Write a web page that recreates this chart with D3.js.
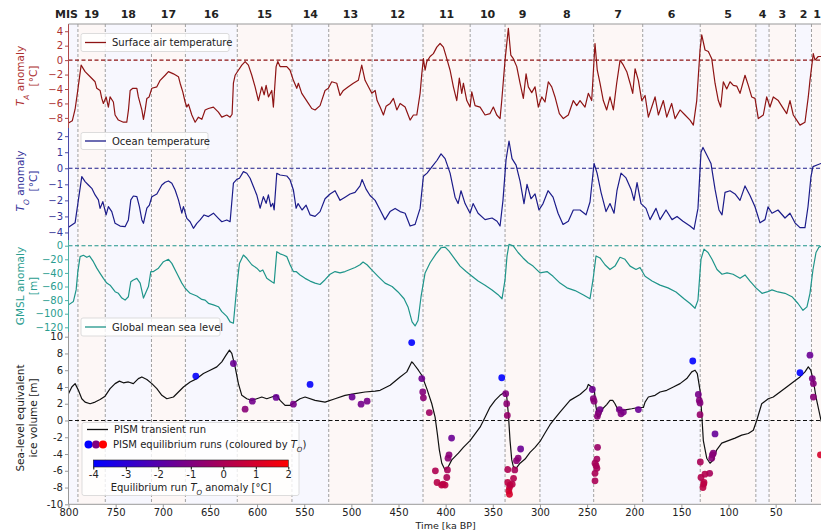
<!DOCTYPE html>
<html>
<head>
<meta charset="utf-8">
<script src="https://cdnjs.cloudflare.com/ajax/libs/d3/7.8.5/d3.min.js"></script>
<style>
  body { margin: 0; background: #fff; }
  text { font-family: "DejaVu Sans", sans-serif; }
</style>
</head>
<body>
<script>
// marine isotope stage boundaries [ka BP], oldest first, and stage numbers
const misEdges = [800, 790, 761, 712, 676, 621, 563, 524, 478, 424, 374, 337, 300, 243, 191, 130, 71, 57, 29, 12, 0];
const misNumbers = [20, 19, 18, 17, 16, 15, 14, 13, 12, 11, 10, 9, 8, 7, 6, 5, 4, 3, 2, 1];

const xTicks = [800, 750, 700, 650, 600, 550, 500, 450, 400, 350, 300, 250, 200, 150, 100, 50];
const taTicks = [4, 2, 0, -2, -4, -6, -8];
const toTicks = [2, 1, 0, -1, -2, -3, -4];
const slTicks = [0, -20, -40, -60, -80, -100, -120];
const iceTicks = [10, 8, 6, 4, 2, 0, -2, -4, -6, -8, -10];
const cbTicks = [-4, -3, -2, -1, 0, 1, 2];

// surface air temperature anomaly [time ka, degC]
const airTemp = [[800,-8.7],[796,-8.4],[793,-6.8],[790.5,-4.5],[786.6,-0.7],[782.4,-1.6],[777,-2.3],[771.8,-3],[770,-3.9],[766.5,-4.2],[764.7,-5.3],[763,-6],[760.1,-5.1],[757.7,-6.5],[755.9,-5.1],[752.4,-5.8],[750.6,-7.6],[747.1,-8.3],[741.8,-8.6],[738.2,-8.6],[736.4,-6.9],[734.6,-4.2],[731.8,-3.9],[727.5,-3.9],[725.9,-5.1],[722.2,-6.9],[720.5,-8.2],[718.7,-6.9],[716.9,-5.3],[714.5,-5.1],[711.6,-3.9],[706.3,-3.7],[702.8,-2.8],[697.5,-2.1],[694,-1.6],[688.7,-1.9],[683.4,-2.3],[681.6,-3.2],[678.8,-4.4],[676.3,-5.8],[674.5,-6.5],[672.8,-6.1],[669.2,-7.6],[665.7,-8.6],[662.2,-7.9],[658.6,-8.2],[655.1,-6.9],[651.6,-6.7],[646.3,-6.5],[641,-7.2],[637.4,-7.9],[632.1,-7.6],[628.6,-7.9],[626.5,-7.5],[625.1,-3.2],[623.3,-2.1],[619.8,-1.4],[616.2,-0.7],[612.7,-0.2],[609.2,-0.7],[605.6,-2.1],[602.1,-3.7],[598.6,-5.6],[595,-3.7],[592.5,-4.8],[590.4,-3.5],[587.9,-5.1],[584.4,-4.2],[582.7,-6.5],[579.8,-0.9],[578,-0.2],[575.6,-0.9],[568.5,-0.9],[565,-1.4],[561.5,-2.8],[557.9,-3.9],[556.2,-3.2],[552.6,-4.6],[549.1,-5.3],[545.6,-6],[542,-6.7],[538.5,-6.9],[533.2,-6.3],[527.9,-4.2],[524.4,-3.9],[520.8,-3],[515.5,-3.2],[512,-4.9],[508.5,-4.2],[503.2,-3.7],[497.9,-3.2],[492.6,-2.8],[489,-0.7],[485.5,-2.8],[481.9,-3.7],[478.3,-4.6],[474.8,-4.2],[472.7,-5.6],[469.5,-6.5],[466,-7.6],[463.2,-6.4],[458.9,-6],[455.4,-5.3],[451.8,-6.9],[448.3,-6],[443,-6.5],[437.7,-8.3],[434.2,-7.6],[430.6,-7.6],[427.1,-4.6],[425.3,-1.9],[423.6,0.2],[421.8,-1.4],[420,-0.2],[416.5,0.5],[413,0.9],[409.4,1.8],[405.9,2.3],[402.4,1.8],[398.8,0.2],[395.3,-1.4],[391.8,-3.7],[388.2,-5.6],[385.5,-2.5],[382.9,-4.6],[381.2,-3.2],[377.6,-5.6],[374.1,-6.5],[372.3,-4.4],[368.8,-6.3],[363.5,-6.5],[358.2,-7.6],[352.9,-7.4],[349.4,-6.5],[345.8,-7.6],[342.3,-8.1],[340.5,-5.6],[337,0],[333.5,4.4],[330.9,0.7],[328.2,0.2],[324.6,-0.9],[321.1,-3.2],[317.6,-5.3],[314.7,-1.9],[312.3,-3.7],[308.7,-4.5],[305.2,-3.7],[301.7,-6.5],[298.1,-5.1],[294.6,-5.8],[291.1,-3],[287.5,-3.7],[284,-5.1],[279.4,-7.4],[275.2,-8.1],[269.9,-7.6],[264.6,-5.6],[261,-6.3],[257.5,-5.6],[252.2,-6.5],[248.7,-4.6],[245.1,-5.6],[241.6,2.3],[239.2,-1.4],[236.3,-3.2],[232.8,-5.6],[229.2,-6.9],[225.7,-5.1],[222.1,-6.9],[218.6,-3.2],[215,0],[211.5,-0.7],[207.9,-1.6],[204.4,-3.2],[201.6,-4.6],[199.1,-1.2],[195.6,-2.8],[192,-5.6],[188.5,-4.9],[185,-7.9],[181.4,-6.5],[177.9,-5.1],[174.4,-7.6],[169.1,-5.6],[165.5,-7.9],[160.3,-6],[156.7,-8.1],[151.4,-6.9],[146.1,-7.6],[140.8,-8.3],[137.3,-9],[133.7,-5.6],[130.2,1.4],[128.4,3.5],[124.9,1.4],[121.4,1.2],[117.8,0.2],[114.3,-3.2],[110.8,-5.6],[108.3,-6.5],[105.5,-3],[101.9,-4],[98.4,-3],[94.9,-3.5],[91.3,-3.6],[87.8,-4.6],[82.5,-2.1],[79,-3.5],[75.4,-5.1],[71.9,-5.3],[68.4,-8.1],[63.1,-7.6],[59.5,-5.1],[56,-6.5],[52.5,-5.1],[47.2,-5.6],[43.3,-6.4],[38.3,-7.4],[34.8,-5.6],[31.3,-7.6],[27.7,-8.3],[24.2,-9],[18.9,-8.6],[15.4,-5.1],[13.6,-2.8],[10.1,0.9],[8.3,0],[4.8,0.5],[1.9,0.5],[0,0.6]];

// ocean temperature anomaly [time ka, degC]
const oceanTemp = [[800,-3.68],[793,-3.4],[789.5,-1.97],[785.9,-0.52],[782.4,-0.83],[778.9,-1.04],[775.3,-1.25],[771.8,-1.66],[768.3,-1.97],[766.5,-2.5],[763.6,-2.08],[760.1,-2.9],[757.7,-2.39],[754.1,-2.7],[750.6,-3.43],[745.3,-3.6],[740,-3.64],[736.5,-3.22],[733.9,-1.97],[731.2,-1.73],[727.5,-1.77],[724.8,-2.39],[722.2,-3.22],[720.5,-3.43],[716.9,-2.49],[714.2,-2.29],[711.6,-1.77],[706.3,-1.6],[701,-1.04],[697.5,-0.87],[694,-0.79],[690.4,-0.93],[686.9,-1.35],[683.4,-1.97],[679.8,-2.8],[678.1,-2.39],[674.5,-3.12],[671,-3.33],[667.5,-3.74],[663.9,-3.43],[660.4,-3.22],[656.2,-2.91],[651.6,-3.01],[646.3,-2.8],[641,-3.12],[637.4,-3.33],[632.1,-3.22],[628.6,-3.33],[625.1,-0.93],[621.5,-0.69],[618.7,-0.62],[614.5,-0.21],[610.9,-0.31],[607.4,-0.62],[603.9,-1.14],[600.3,-1.66],[596.8,-2.49],[593.3,-1.77],[590.4,-2.18],[588,-1.66],[585.4,-2.39],[583.3,-2.18],[581.9,-2.6],[579.1,-0.31],[575.6,-0.42],[568.5,-0.48],[565,-0.73],[561.5,-1.35],[558.6,-2.49],[556.5,-2.2],[552.3,-2.6],[548,-2.3],[543.8,-2.9],[538.5,-3.0],[533.2,-2.7],[527.9,-1.9],[522.6,-1.6],[517.3,-1.4],[512,-2.0],[506.7,-1.8],[501.4,-1.6],[496.1,-1.5],[490.8,-1.1],[488.6,-0.7],[484.4,-1.3],[480.2,-1.7],[474.8,-2.0],[469.5,-2.6],[464.3,-3.2],[459,-2.7],[453.6,-2.5],[448.3,-2.7],[443,-2.8],[437.7,-3.6],[432.4,-3.5],[427.1,-2.5],[423.6,-0.5],[419.7,-0.3],[414.4,0.1],[409.1,0.5],[404.9,0.9],[400.6,0.6],[395.3,-0.3],[390,-1.8],[386.8,-2.2],[383.7,-1.4],[379.4,-2.2],[374.1,-2.8],[370.9,-2.2],[365.6,-2.8],[358.2,-3.2],[350.8,-3.1],[345.5,-3.3],[342.3,-3.6],[339.2,-2.0],[336,0.5],[332.8,1.7],[329.6,0.6],[325.3,0.2],[321.1,-0.8],[316.9,-2.2],[313.7,-1.0],[309.5,-1.9],[305.2,-1.6],[301,-2.6],[296.7,-2.2],[291.4,-1.4],[286.1,-1.8],[280.8,-2.8],[275.5,-3.5],[269.9,-3.3],[264.6,-2.6],[257.5,-2.6],[251.1,-2.9],[246.9,-2.1],[242.6,0.3],[239.4,-0.3],[235.2,-1.5],[229.9,-2.7],[225.7,-2.2],[221.4,-2.8],[218.3,-1.4],[214,-0.3],[208.7,-0.6],[203.4,-1.3],[200.2,-2.0],[197,-0.9],[192.8,-2.2],[187.5,-2.5],[183.2,-3.2],[176.9,-2.5],[172.6,-3.2],[166.3,-2.6],[159.9,-3.2],[154.6,-3.0],[148.3,-3.3],[140.8,-3.6],[136.6,-3.8],[132.4,-2.5],[129.2,1.0],[127.1,1.3],[122.8,0.8],[118.6,0.3],[114.3,-1.3],[110.1,-2.6],[106.9,-2.9],[103.7,-1.5],[98.4,-1.4],[93.1,-1.6],[87.8,-2.0],[82.5,-1.1],[77.2,-1.7],[71.9,-2.4],[66.6,-3.4],[61.3,-3.2],[58.1,-2.4],[53.9,-2.8],[47.5,-2.6],[40.1,-3.1],[34.8,-2.8],[29.5,-3.4],[24.2,-3.7],[18.9,-3.7],[15.7,-2.4],[12.5,-0.5],[10.4,0.1],[6.1,0.2],[1.9,0.3],[0,0.3]];

// global mean sea level anomaly [time ka, m]
const seaLevel = [[800,-87],[794.8,-82],[791.9,-65],[790.1,-38],[787.7,-16],[784.2,-14],[780.6,-17],[777.8,-15],[773.6,-23.5],[770,-33],[766.5,-40.6],[763,-48],[759.4,-55],[755.9,-58],[750.6,-67.6],[747.1,-70],[743.4,-77],[740,-80],[736.5,-75],[733.9,-53],[731.2,-50.4],[727.5,-48],[724,-55],[720.5,-77],[715.2,-60],[712.7,-38],[709.9,-38],[704.6,-33],[699.3,-23.5],[694,-20],[690.4,-26],[685.1,-40.6],[679.8,-55],[676.3,-62.6],[671,-70],[663.9,-74],[658.6,-79],[655.1,-80],[651.6,-84.7],[646.3,-87],[641,-89.7],[637.4,-97],[632.1,-104],[628.6,-112],[625.1,-114],[621.5,-60],[618.7,-26],[614.5,-13.7],[610.9,-18.5],[605.6,-28],[600.3,-33],[596.8,-38],[593.9,-35.7],[589.7,-48],[584.4,-53],[581.9,-55],[579.1,-8.8],[575.6,-12],[572.1,-13.7],[568.5,-16],[565,-28],[561.5,-38],[558.6,-38],[554.4,-43],[549.1,-48],[543.8,-52],[538.5,-55],[533.2,-57],[527.9,-50],[522.6,-42],[517.3,-38],[512,-40],[506.7,-38],[501.4,-35],[496.1,-32],[490.8,-28],[487.6,-24],[483.4,-28],[478.1,-36],[471.7,-45],[464.3,-55],[456.8,-60],[450.5,-68],[444.1,-78],[439.9,-90],[435.6,-112],[432.4,-118],[429.3,-110],[426.1,-75],[421.8,-40],[416.5,-25],[410.2,-12],[404.9,-3],[400.6,-2],[396.4,-8],[390,-20],[384.7,-30],[378.3,-38],[372,-45],[365.6,-52],[358.2,-58],[350.8,-65],[344.4,-72],[340.2,-78],[337,-50],[334.9,-15],[332.8,2],[328.5,0],[323.2,-10],[317.9,-18],[312.6,-25],[307.3,-30],[299.9,-40],[292.5,-38],[286.1,-45],[278.7,-55],[271.3,-62],[262.8,-66],[254.3,-72],[246.9,-78],[243.7,-50],[240.5,-15],[236.3,-18],[231,-28],[225.7,-35],[220.4,-30],[215.1,-17],[209.8,-20],[204.4,-30],[198.1,-35],[193.9,-32],[188.5,-45],[181.1,-52],[172.6,-58],[164.2,-62],[155.7,-68],[147.2,-78],[140.8,-85],[135.5,-92],[132.4,-80],[129.2,-20],[126,-5],[121.7,-10],[117.5,-20],[112.2,-35],[106.9,-42],[101.6,-40],[95.2,-42],[87.8,-48],[82.5,-43],[77.2,-52],[70.9,-62],[64.5,-70],[59.2,-68],[53.9,-65],[47.5,-68],[40.1,-70],[32.7,-75],[26.3,-85],[21,-95],[16.8,-90],[13.6,-70],[10.4,-35],[7.2,-10],[4,-2],[0,0]];

// PISM transient run, sea-level equivalent ice volume [time ka, m]
const iceVolume = [[800,3.2],[796.5,4.0],[793,4.4],[789.5,3.6],[785.9,2.6],[782.4,2.2],[777.1,2.0],[771.8,2.2],[766.5,2.5],[761.2,2.9],[755.9,3.8],[750.6,4.4],[746,4.7],[741.8,4.5],[736.5,4.6],[731.2,4.4],[725.9,5.0],[722.2,5.2],[716.9,4.9],[711.6,4.4],[706.3,3.8],[701,3.0],[695.7,2.6],[688.7,2.8],[683.4,3.4],[678.1,4.0],[671,4.6],[663.9,5.0],[656.9,5.6],[649.8,6.0],[642.7,6.4],[637.4,7.0],[632.9,7.8],[629.3,8.4],[626.8,8.0],[623.3,6.4],[619.8,4.4],[616.2,3.0],[610.9,2.6],[605.6,2.4],[600.3,2.6],[595,2.8],[589.7,2.6],[584.4,2.8],[579.1,3.0],[575.6,2.4],[570.3,1.8],[565,1.8],[559.7,2.2],[554.4,2.6],[549.1,2.8],[538.5,2.4],[527.9,2.2],[517.3,2.6],[506.7,3.0],[496.1,3.2],[485.5,3.4],[474.8,3.5],[469.5,3.6],[458.9,4.2],[448.3,5.2],[441.2,5.8],[435.9,7.0],[434.2,6.8],[428.9,6.0],[425.3,5.4],[420,3.8],[414.7,2.0],[411.2,0.4],[408.8,-1.6],[406.7,-3.5],[404.1,-5.1],[400.6,-5.9],[397.1,-5.5],[393.5,-4.7],[386.5,-3.9],[381.2,-3.2],[374.1,-2.4],[368.8,-1.6],[363.5,-0.8],[358.2,0.4],[352.9,1.6],[347.6,2.4],[342.3,3.0],[337,3.4],[335.2,2.8],[333.5,0.8],[331.7,-2.4],[329.9,-4.7],[328.2,-5.5],[325.3,-5.7],[321.1,-5.1],[315.8,-4.6],[310.5,-3.8],[305.2,-3.2],[299.9,-2.5],[294.6,-1.5],[289.3,-0.5],[285.8,0],[278.7,1.0],[268.1,2.4],[257.5,3.1],[250.4,3.8],[248.7,4.3],[245.1,4.0],[242.3,3.6],[240.5,1.6],[238.7,0.4],[236.3,0.6],[233.5,1.4],[229.2,1.9],[225.7,2.4],[222.8,2.4],[220.4,2.0],[216.9,1.2],[211.6,1.2],[208,1.3],[202.6,1.4],[195.6,1.55],[190.3,1.55],[188.5,2.2],[185,2.8],[177.9,3.0],[172.6,3.4],[165.5,3.6],[158.5,4.0],[151.4,4.4],[144.3,5.0],[139,5.8],[135.5,6.0],[133.1,5.6],[130.2,3.6],[128.4,0.8],[126.7,-2.4],[123.1,-4.5],[119.6,-5.1],[116.1,-4.7],[112.5,-3.5],[107.2,-2.7],[100.2,-2.4],[93.1,-2.1],[86,-1.75],[79,-1.55],[73.7,-1.16],[70.1,0],[64.8,2.0],[57.8,2.6],[52.5,2.8],[45.4,3.4],[38.3,4.0],[31.3,4.6],[24.2,5.2],[18.9,5.8],[15.4,6.4],[12.8,6.0],[10.1,4.8],[7.2,2.8],[1.9,0],[0,-0.6]];

// PISM equilibrium runs [time ka, ice volume m, ocean temperature anomaly degC]
const eqRuns = [[665,5.3,-3.9],[625.1,6.8,-1.5],[612.7,1.35,-0.8],[605,2.3,-1.3],[579.8,2.75,-1.5],[561.5,1.95,-1.2],[543.8,4.3,-3.9],[499.2,2.8,-1.5],[489.7,1.95,-1.3],[483.3,2.3,-1.2],
  [436,9.3,-4.0],[425.3,5.0,-1.4],[424.3,3.4,-0.9],[423.6,2.7,-0.7],[417.3,0.95,-0.3],[393.7,-2.1,-1.5],[396.4,-4.1,-0.8],[397.5,-4.5,-0.7],[398.1,-5.9,-0.1],[398.8,-6.8,0],[410.9,-6.0,0.1],[409.1,-7.4,0.3],[404.3,-7.7,0.4],[400.6,-7.7,0.4],[402.7,-7.6,0.4],
  [340.5,5.1,-4.0],[336.3,3.2,-1.0],[335.2,2.0,-0.7],[334.6,0.6,-0.5],[320.5,-3.4,-1.5],[323.1,-4.5,-0.8],[324.9,-4.8,-0.7],[326.7,-5.9,-0.1],[334.1,-5.85,0.1],[329.4,-7.6,0.3],[328,-6.9,0.2],[334.1,-7.4,0.4],[332.3,-8.0,0.6],[333,-8.4,0.8],[332.3,-8.8,1.0],[331.7,-7.7,0.4],
  [244.4,3.7,-1.4],[243.4,2.6,-0.9],[242.6,2.3,-0.8],[236.3,1.3,-1.3],[238.1,0.9,-1.0],[239.1,0.5,-0.8],[215.8,1.3,-1.2],[214,0.8,-1.0],[211.5,1.0,-1.1],[195.6,1.3,-1.5],
  [238.9,-3.2,-0.4],[239.6,-4.6,-0.2],[241.6,-5.1,-0.1],[239.6,-5.7,-0.1],[241.6,-6.3,0],[241.6,-7.2,0],[240.5,-5.4,-0.1],
  [137.9,7.1,-4.0],[132,3.1,-1.2],[131,2.4,-0.9],[130.2,2.1,-0.9],[130.2,0.7,-0.5],[114.3,-1.6,-1.6],[116.1,-3.9,-0.9],[117.1,-4.1,-0.8],[117.8,-4.5,-0.8],[120,-6.3,-0.1],[129.9,-4.95,0],[129.2,-6.8,0.2],[125,-6.4,0.2],[126.4,-7.6,0.4],[127.1,-8.0,0.4],[126,-7.4,0.4],
  [24.2,5.7,-4.0],[13.6,7.8,-1.5],[11.1,5.0,-1.1],[10,4.4,-0.9],[10,2.8,-0.8],[2.5,-4.1,1.0]];

const W = 821, H = 530;
const svg = d3.select("body").append("svg").attr("width", W).attr("height", H)
  .style("display", "block");

const plotLeft = 68.5, plotRight = 822.8, plotTop = 24, plotBottom = 504.3;
const x = d3.scaleLinear().domain([800, 0]).range([plotLeft, plotRight]);

const cRed = "#8e1414", cRedTxt = "#ad3030";
const cBlue = "#1c1c8a", cBlueTxt = "#33339a";
const cTeal = "#1f958a", cTealTxt = "#2a9d90";

const panels = [
  { top: 24, bottom: 128, domain: [-9.4, 5.0], ticks: taTicks, data: airTemp, line: cRed, txt: cRedTxt, spine: "#b04848", minus: true },
  { top: 128, bottom: 240, domain: [-4.47, 2.51], ticks: toTicks, data: oceanTemp, line: cBlue, txt: cBlueTxt, spine: "#4a4aa8", minus: true },
  { top: 240, bottom: 332, domain: [-126.9, 8.4], ticks: slTicks, data: seaLevel, line: cTeal, txt: cTealTxt, spine: "#4ab0a5", minus: true },
  { top: 332, bottom: 504.3, domain: [-10, 10.56], ticks: iceTicks, data: iceVolume, line: "#111", txt: "#222", spine: "#999", minus: false }
];
panels.forEach(p => { p.y = d3.scaleLinear().domain(p.domain).range([p.bottom, p.top]); });

svg.append("defs").append("clipPath").attr("id", "plotclip")
  .append("rect").attr("x", plotLeft).attr("y", plotTop)
  .attr("width", plotRight - plotLeft).attr("height", plotBottom - plotTop);

// stage shading
const stages = misNumbers.map((n, i) => ({ n: n, a: misEdges[i], b: misEdges[i + 1] }));
svg.append("g").selectAll("rect").data(stages).enter().append("rect")
  .attr("x", d => x(d.a)).attr("width", d => x(d.b) - x(d.a))
  .attr("y", plotTop).attr("height", plotBottom - plotTop)
  .attr("fill", d => d.n % 2 ? "#fdf7f6" : "#f7f7fe");

// stage boundaries
svg.append("g").selectAll("line").data(misEdges.slice(1, -1)).enter().append("line")
  .attr("x1", d => x(d)).attr("x2", d => x(d))
  .attr("y1", plotTop).attr("y2", plotBottom)
  .attr("stroke", "#8a8a8a").attr("stroke-width", 0.8).attr("stroke-dasharray", "3,2");

// stage labels
svg.append("g").selectAll("text").data(stages).enter().append("text")
  .attr("x", d => d.n === 20 ? x(790) : (x(d.a) + x(d.b)) / 2)
  .attr("y", 17.5)
  .attr("text-anchor", d => d.n === 20 ? "end" : "middle")
  .attr("font-size", 11).attr("font-weight", "bold").attr("fill", "#222")
  .text(d => d.n === 20 ? "MIS" : d.n);

const plot = svg.append("g").attr("clip-path", "url(#plotclip)");

panels.forEach(p => {
  // zero reference
  plot.append("line")
    .attr("x1", plotLeft).attr("x2", plotRight)
    .attr("y1", p.y(0)).attr("y2", p.y(0))
    .attr("stroke", p.line).attr("stroke-width", 1.1).attr("stroke-dasharray", "4,2.5");
  const line = d3.line().x(d => x(d[0])).y(d => p.y(d[1]));
  plot.append("path").datum(p.data)
    .attr("d", line).attr("fill", "none")
    .attr("stroke", p.line).attr("stroke-width", 1.2).attr("stroke-linejoin", "round");

  const fmt = p.minus ? d3.format("d") : (d => String(d));
  const ax = svg.append("g").attr("transform", `translate(${plotLeft},0)`)
    .call(d3.axisLeft(p.y).tickValues(p.ticks).tickFormat(fmt).tickSize(3.5).tickPadding(2));
  ax.select(".domain").attr("stroke", p.spine).attr("d", `M0,${p.top}V${p.bottom}`);
  ax.selectAll(".tick line").attr("stroke", p.spine);
  ax.selectAll(".tick text").attr("fill", p.txt).attr("font-size", 10)
    .attr("font-family", "DejaVu Sans, sans-serif");
});

// equilibrium runs
const ice = panels[3].y;
const toColor = d3.scaleLinear().domain([-4, 2]).range(["#0000ff", "#ff0000"]);
plot.append("g").selectAll("circle").data(eqRuns).enter().append("circle")
  .attr("cx", d => x(d[0])).attr("cy", d => ice(d[1])).attr("r", 3.4)
  .attr("fill", d => toColor(d[2])).attr("fill-opacity", 0.9);

// top and bottom spines
svg.append("line").attr("x1", plotLeft).attr("x2", W).attr("y1", plotTop).attr("y2", plotTop)
  .attr("stroke", "#999").attr("stroke-width", 1);

const xa = svg.append("g").attr("transform", `translate(0,${plotBottom})`)
  .call(d3.axisBottom(x).tickValues(xTicks).tickFormat(d3.format("d")).tickSize(3.5).tickPadding(1.5));
xa.select(".domain").attr("stroke", "#999").attr("d", `M${plotLeft},0H${W}`);
xa.selectAll(".tick line").attr("stroke", "#999");
xa.selectAll(".tick text").attr("fill", "#222").attr("font-size", 10)
  .attr("font-family", "DejaVu Sans, sans-serif");

svg.append("text").attr("x", (plotLeft + plotRight) / 2).attr("y", 528.5)
  .attr("text-anchor", "middle").attr("font-size", 9.5).attr("fill", "#222").text("Time [ka BP]");

// y labels
function yLabel(lines, cy, color) {
  const xs = [24, 36.5];
  lines.forEach((ln, i) => {
    const t = svg.append("text").attr("transform", `translate(${xs[i]},${cy}) rotate(-90)`)
      .attr("text-anchor", "middle").attr("font-size", 10.5).attr("fill", color);
    ln.forEach(part => {
      const s = t.append("tspan").text(part[0]);
      if (part[1]) s.attr("font-style", "italic");
      if (part[2]) s.attr("baseline-shift", "sub").attr("font-size", 7.5);
    });
  });
}
yLabel([[["T", 1], ["A", 1, 1], [" anomaly"]], [["[°C]"]]], 76, cRedTxt);
yLabel([[["T", 1], ["O", 1, 1], [" anomaly"]], [["[°C]"]]], 181, cBlueTxt);
yLabel([[["GMSL anomaly"]], [["[m]"]]], 286, cTealTxt);
yLabel([[["Sea-level equivalent"]], [["ice volume [m]"]]], 418, "#222");

// legends
function legendBox(x0, y0, w, h) {
  svg.append("rect").attr("x", x0).attr("y", y0).attr("width", w).attr("height", h)
    .attr("rx", 2).attr("fill", "#fff").attr("fill-opacity", 0.8)
    .attr("stroke", "#d4d4d4").attr("stroke-width", 0.8);
}
function legendLine(x0, y0, color, label) {
  svg.append("line").attr("x1", x0).attr("x2", x0 + 21).attr("y1", y0).attr("y2", y0)
    .attr("stroke", color).attr("stroke-width", 1.3);
  svg.append("text").attr("x", x0 + 27).attr("y", y0 + 3.6).attr("font-size", 10)
    .attr("fill", "#222").text(label);
}
legendBox(81, 33.5, 148, 18);
legendLine(85, 42.5, cRed, "Surface air temperature");
legendBox(81, 132.5, 127, 17);
legendLine(85, 141, cBlue, "Ocean temperature");
legendBox(81, 318, 139, 18);
legendLine(85, 327, cTeal, "Global mean sea level");

legendBox(82, 422.5, 217, 73);
legendLine(87, 429.5, "#111", "PISM transient run");
[[-4, 88.5], [-1, 96], [2, 103]].forEach(d => {
  svg.append("circle").attr("cx", d[1]).attr("cy", 444.5).attr("r", 4).attr("fill", toColor(d[0]));
});
const eqTxt = svg.append("text").attr("x", 113).attr("y", 448).attr("font-size", 10).attr("fill", "#222");
eqTxt.append("tspan").text("PISM equilibrium runs (coloured by ");
eqTxt.append("tspan").text("T").attr("font-style", "italic");
eqTxt.append("tspan").text("O").attr("font-style", "italic").attr("baseline-shift", "sub").attr("font-size", 7);
eqTxt.append("tspan").text(")");

// colour bar
const cb = d3.scaleLinear().domain([-4, 2]).range([93.3, 288.3]);
const grad = svg.select("defs").append("linearGradient").attr("id", "cbgrad");
d3.range(0, 1.0001, 0.1).forEach(f => {
  grad.append("stop").attr("offset", f).attr("stop-color", toColor(-4 + 6 * f));
});
svg.append("rect").attr("x", cb(-4)).attr("y", 460).attr("width", cb(2) - cb(-4)).attr("height", 7)
  .attr("fill", "url(#cbgrad)").attr("stroke", "#222").attr("stroke-width", 0.6);
const cba = svg.append("g").attr("transform", "translate(0,467)")
  .call(d3.axisBottom(cb).tickValues(cbTicks).tickFormat(d => String(d)).tickSize(2.5).tickPadding(1.5));
cba.select(".domain").remove();
cba.selectAll(".tick text").attr("font-size", 10).attr("fill", "#222")
  .attr("font-family", "DejaVu Sans, sans-serif");
const cbTxt = svg.append("text").attr("x", 191).attr("y", 491).attr("text-anchor", "middle")
  .attr("font-size", 10).attr("fill", "#222");
cbTxt.append("tspan").text("Equilibrium run ");
cbTxt.append("tspan").text("T").attr("font-style", "italic");
cbTxt.append("tspan").text("O").attr("font-style", "italic").attr("baseline-shift", "sub").attr("font-size", 7);
cbTxt.append("tspan").text(" anomaly [°C]");
</script>
</body>
</html>
